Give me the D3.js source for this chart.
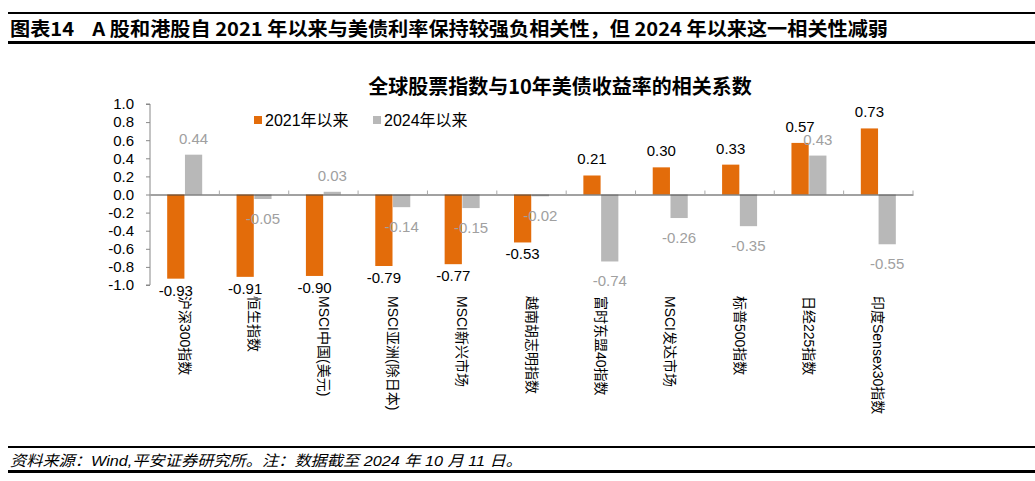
<!DOCTYPE html>
<html>
<head>
<meta charset="utf-8">
<script src="https://cdn.jsdelivr.net/npm/d3@7"></script>
<style>
  body { margin: 0; background: #fff; }
  text { font-family: "Liberation Sans", "Noto Sans CJK SC", sans-serif; }
</style>
</head>
<body>
<div id="wrapper"></div>
<script>
// data
const categories = ["沪深300指数", "恒生指数", "MSCI中国(美元)", "MSCI亚洲(除日本)", "MSCI新兴市场",
  "越南胡志明指数", "富时东盟40指数", "MSCI发达市场", "标普500指数", "日经225指数", "印度Sensex30指数"]
const since2021 = [-0.93, -0.91, -0.90, -0.79, -0.77, -0.53, 0.21, 0.30, 0.33, 0.57, 0.73]
const since2024 = [0.44, -0.05, 0.03, -0.14, -0.15, -0.02, -0.74, -0.26, -0.35, 0.43, -0.55]
const seriesNames = ["2021年以来", "2024年以来"]
const yTicks = [1.0, 0.8, 0.6, 0.4, 0.2, 0.0, -0.2, -0.4, -0.6, -0.8, -1.0]

function drawChart() {
    const width = 1035
    const height = 481
    const orange = "#E36C0A"
    const grey = "#B8B8B8"

    const svg = d3.select("#wrapper")
      .append("svg")
        .attr("width", width)
        .attr("height", height)

    // header / footer rules
    const rule = (y, w) => svg.append("rect")
        .attr("x", 8).attr("y", y).attr("width", width - 8).attr("height", w).attr("fill", "#000")
    rule(12, 2)
    rule(41, 3)
    rule(446, 2)
    rule(470, 3)

    svg.append("text")
        .attr("x", 10).attr("y", 36)
        .attr("font-size", 19).attr("font-weight", "bold")
        .attr("textLength", 878).attr("lengthAdjust", "spacingAndGlyphs")
        .style("font-family", "'Noto Sans CJK SC', sans-serif")
        .text("图表14\u00a0\u00a0\u00a0\u00a0A 股和港股自 2021 年以来与美债利率保持较强负相关性，但 2024 年以来这一相关性减弱")

    svg.append("text")
        .attr("x", 10).attr("y", 466)
        .attr("font-size", 15).attr("font-style", "italic")
        .attr("textLength", 512).attr("lengthAdjust", "spacingAndGlyphs")
        .text("资料来源：Wind,平安证券研究所。注：数据截至 2024 年 10 月 11 日。")

    svg.append("text")
        .attr("x", 560).attr("y", 94)
        .attr("text-anchor", "middle")
        .attr("font-size", 20).attr("font-weight", "bold")
        .style("font-family", "'Noto Sans CJK SC', sans-serif")
        .text("全球股票指数与10年美债收益率的相关系数")

    // scales
    const x = d3.scaleBand()
        .domain(categories)
        .range([150, 913])
    const inner = d3.scaleBand()
        .domain([0, 1])
        .range([x.bandwidth() / 2 - 17.5, x.bandwidth() / 2 + 17.5])
        .paddingInner(0.03)
    const y = d3.scaleLinear()
        .domain([-1, 1])
        .range([285, 104])

    // y axis
    svg.append("g")
        .attr("transform", "translate(150,0)")
        .call(d3.axisLeft(y).tickValues(yTicks).tickSize(4).tickFormat(d3.format(".1f")))
        .call(g => g.select(".domain").attr("stroke", "#888").attr("d", `M-4,${y(1)}H0V${y(-1)}H-4`))
        .call(g => g.selectAll(".tick line").attr("stroke", "#888"))
        .call(g => g.selectAll(".tick text")
            .attr("x", -16)
            .attr("font-size", 15)
            .attr("fill", "#000")
            .style("font-family", "'Liberation Sans', sans-serif")
            .text(d => d3.format(".1f")(d).replace("−", "-")))

    // bars
    const rows = categories.map((c, i) => ({ c, v: [since2021[i], since2024[i]] }))
    const group = svg.selectAll(".cat")
        .data(rows)
        .join("g")
        .attr("class", "cat")
        .attr("transform", d => `translate(${x(d.c)},0)`)

    group.selectAll("rect")
        .data(d => d.v.map((v, k) => ({ v, k })))
        .join("rect")
        .attr("x", d => inner(d.k))
        .attr("width", inner.bandwidth())
        .attr("y", d => y(Math.max(0, d.v)))
        .attr("height", d => Math.abs(y(d.v) - y(0)))
        .attr("fill", d => d.k === 0 ? orange : grey)

    group.selectAll(".lbl")
        .data(d => d.v.map((v, k) => ({ v, k })))
        .join("text")
        .attr("class", "lbl")
        .attr("x", d => inner(d.k) + inner.bandwidth() / 2)
        .attr("y", d => d.v >= 0 ? y(d.v) - 11 : y(d.v) + (d.k === 0 ? 17 : 25))
        .attr("text-anchor", "middle")
        .attr("font-size", 15)
        .attr("fill", d => d.k === 0 ? "#000" : "#A0A0A0")
        .text(d => d3.format(".2f")(d.v).replace("−", "-"))

    // x axis at zero
    svg.append("g")
        .attr("transform", `translate(0,${y(0)})`)
        .call(d3.axisBottom(x).tickSize(0).tickFormat(""))
        .call(g => g.select(".domain").attr("stroke", "#444"))
    svg.append("g")
        .selectAll("line")
        .data(categories.slice(1).concat(["end"]))
        .join("line")
        .attr("x1", d => d === "end" ? x.range()[1] : x(d))
        .attr("x2", d => d === "end" ? x.range()[1] : x(d))
        .attr("y1", y(0) - 4)
        .attr("y2", y(0))
        .attr("stroke", "#aaa")

    // category labels, rotated
    svg.append("g")
        .selectAll("text")
        .data(categories)
        .join("text")
        .attr("transform", d => `translate(${x(d) + x.bandwidth() / 2},296) rotate(90)`)
        .attr("dy", "0.35em")
        .attr("font-size", 14)
        .text(d => d)

    // legend
    const legend = svg.append("g")
        .attr("transform", "translate(254,120)")
    seriesNames.forEach((name, k) => {
        const lg = legend.append("g").attr("transform", `translate(${k * 119},0)`)
        lg.append("rect")
            .attr("x", 0).attr("y", -4)
            .attr("width", 8).attr("height", 8)
            .attr("fill", k === 0 ? orange : grey)
        lg.append("text")
            .attr("x", 11).attr("dy", "0.35em")
            .attr("font-size", 16)
            .text(name)
    })
}

drawChart()
</script>
</body>
</html>
